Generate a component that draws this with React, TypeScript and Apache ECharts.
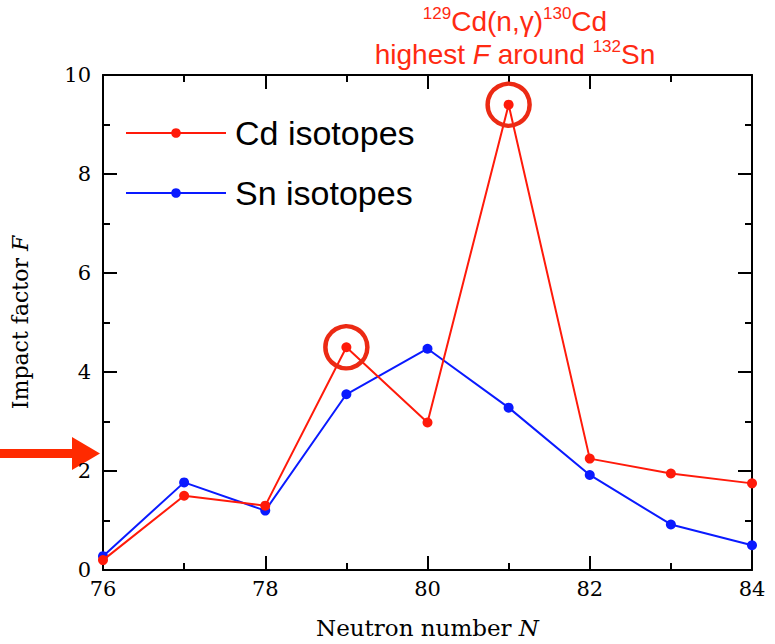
import React, { useEffect, useRef } from "react";
import * as echarts from "echarts";

const neutronNumbers = [76, 77, 78, 79, 80, 81, 82, 83, 84];
const cdValues = [0.2, 1.5, 1.3, 4.5, 2.98, 9.4, 2.25, 1.95, 1.75];
const snValues = [0.28, 1.77, 1.2, 3.55, 4.47, 3.28, 1.92, 0.92, 0.5];
const highlighted = [79, 81];
const yTicks = [0, 2, 4, 6, 8, 10];

const SERIF = "'DejaVu Serif', serif";
const SANS = "'Liberation Sans', Arial, sans-serif";

export default function App() {
  const ref = useRef<HTMLDivElement>(null);
  useEffect(() => {
    if (!ref.current) return;
    const chart = echarts.init(ref.current, undefined, { renderer: "svg" });
    const cdPairs = neutronNumbers.map((n, i) => [n, cdValues[i]]);
    const snPairs = neutronNumbers.map((n, i) => [n, snValues[i]]);
    const ringPairs = highlighted.map((n) => [n, cdValues[neutronNumbers.indexOf(n)]]);
    const axisBase = { min: 76, max: 84, interval: 2 };
    const tickStyle = { color: "#000", width: 2 };
    chart.setOption({
      animation: false,
      backgroundColor: "#fff",
      grid: { left: 103, right: 23, top: 75, bottom: 69 },
      title: {
        text: "{sup|129}Cd(n,γ){sup|130}Cd\nhighest {it|F} around {sup|132}Sn",
        left: 510,
        top: 0,
        textAlign: "center",
        textStyle: {
          color: "#ff2a12",
          fontFamily: SANS,
          fontSize: 28,
          fontWeight: "normal",
          lineHeight: 33,
          rich: {
            sup: { fontSize: 17, verticalAlign: "top", lineHeight: 33, color: "#ff2a12", fontFamily: SANS, padding: [0, 0, 12, 0] },
            it: { fontSize: 28, fontStyle: "italic", color: "#ff2a12", fontFamily: SANS, lineHeight: 33 },
          },
        },
      },
      legend: {
        left: 120,
        top: 111,
        orient: "vertical",
        itemWidth: 100,
        itemHeight: 12,
        itemGap: 26,
        data: ["Cd isotopes", "Sn isotopes"],
        textStyle: { fontFamily: SANS, fontSize: 34, color: "#000", padding: [0, 0, 0, 4] },
      },
      xAxis: [
        {
          type: "value",
          ...axisBase,
          name: "Neutron number {it|N}",
          nameLocation: "middle",
          nameGap: 46,
          nameTextStyle: {
            fontFamily: SERIF,
            fontSize: 23,
            color: "#000",
            rich: { it: { fontFamily: SERIF, fontSize: 23, fontStyle: "italic", color: "#000" } },
          },
          axisLine: { show: true, onZero: false, lineStyle: tickStyle },
          axisTick: { show: true, inside: true, length: 14, lineStyle: tickStyle },
          minorTick: { show: true, splitNumber: 2, length: 7, lineStyle: tickStyle },
          axisLabel: { fontFamily: SERIF, fontSize: 21, color: "#000", margin: 8 },
          splitLine: { show: false },
        },
        {
          type: "value",
          ...axisBase,
          position: "top",
          axisLine: { show: true, onZero: false, lineStyle: tickStyle },
          axisTick: { show: true, inside: true, length: 14, lineStyle: tickStyle },
          minorTick: { show: true, splitNumber: 2, length: 7, lineStyle: tickStyle },
          axisLabel: { show: false },
          splitLine: { show: false },
        },
      ],
      yAxis: [
        {
          type: "value",
          min: 0,
          max: 10,
          interval: 2,
          name: "Impact factor {it|F}",
          nameLocation: "middle",
          nameGap: 72,
          nameTextStyle: {
            fontFamily: SERIF,
            fontSize: 22,
            color: "#000",
            rich: { it: { fontFamily: SERIF, fontSize: 22, fontStyle: "italic", color: "#000" } },
          },
          axisLine: { show: true, onZero: false, lineStyle: tickStyle },
          axisTick: { show: true, inside: true, length: 14, lineStyle: tickStyle },
          minorTick: { show: true, splitNumber: 2, length: 7, lineStyle: tickStyle },
          axisLabel: {
            fontFamily: SERIF,
            fontSize: 21,
            color: "#000",
            margin: 12,
            formatter: (v: number) => (yTicks.includes(v) ? String(v) : ""),
          },
          splitLine: { show: false },
        },
        {
          type: "value",
          min: 0,
          max: 10,
          interval: 2,
          position: "right",
          axisLine: { show: true, onZero: false, lineStyle: tickStyle },
          axisTick: { show: true, inside: true, length: 14, lineStyle: tickStyle },
          minorTick: { show: true, splitNumber: 2, length: 7, lineStyle: tickStyle },
          axisLabel: { show: false },
          splitLine: { show: false },
        },
      ],
      series: [
        {
          name: "Cd isotopes",
          type: "line",
          data: cdPairs,
          color: "#ff1a0a",
          symbol: "circle",
          symbolSize: 10,
          lineStyle: { width: 2, color: "#ff1a0a" },
          itemStyle: { color: "#ff1a0a" },
          z: 3,
        },
        {
          name: "Sn isotopes",
          type: "line",
          data: snPairs,
          color: "#0a1aff",
          symbol: "circle",
          symbolSize: 10,
          lineStyle: { width: 2, color: "#0a1aff" },
          itemStyle: { color: "#0a1aff" },
          z: 2,
        },
        {
          name: "rings",
          type: "scatter",
          data: ringPairs,
          symbol: "circle",
          symbolSize: 42,
          itemStyle: { color: "rgba(0,0,0,0)", borderColor: "#ec2a14", borderWidth: 4.5, opacity: 1 },
          silent: true,
          z: 4,
        },
      ],
      graphic: [
        {
          type: "rect",
          shape: { x: 0, y: 449, width: 74, height: 9 },
          style: { fill: "#ff2a00" },
        },
        {
          type: "polygon",
          shape: { points: [[72, 437], [100, 453.5], [72, 470]] },
          style: { fill: "#ff2a00" },
        },
      ],
    });
    return () => chart.dispose();
  }, []);
  return (
    <div
      ref={ref}
      style={{ position: "absolute", left: 0, top: 0, width: 775, height: 644 }}
    />
  );
}
